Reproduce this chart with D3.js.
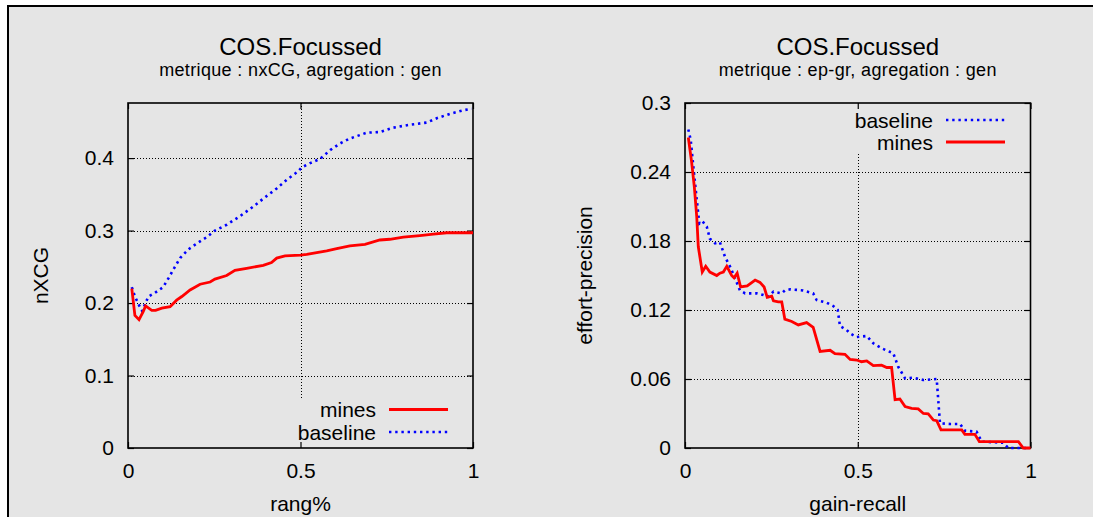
<!DOCTYPE html>
<html>
<head>
<meta charset="utf-8">
<script src="https://cdn.jsdelivr.net/npm/d3@7/dist/d3.min.js"></script>
<style>
  body { margin: 0; background: #fff; }
  text { font-family: "Liberation Sans", Arial, Helvetica, sans-serif; fill: #000; }
</style>
</head>
<body>
<div id="chart"></div>
<script>
// ---- data ----
// left panel: nxCG against rang%
var nxcgMines = [[0.011,0.220],[0.020,0.183],[0.032,0.177],[0.044,0.188],[0.051,0.196],[0.069,0.190],[0.080,0.190],
  [0.098,0.193],[0.122,0.195],[0.141,0.204],[0.156,0.209],[0.180,0.218],[0.209,0.226],[0.238,0.229],[0.252,0.233],
  [0.286,0.238],[0.310,0.245],[0.344,0.248],[0.392,0.252],[0.416,0.256],[0.431,0.262],[0.455,0.265],[0.500,0.266],
  [0.518,0.267],[0.576,0.272],[0.605,0.275],[0.643,0.279],[0.687,0.281],[0.730,0.287],[0.759,0.288],[0.798,0.291],
  [0.846,0.293],[0.885,0.295],[0.924,0.297],[1.000,0.297]];
var nxcgBaseline = [[0.011,0.222],[0.020,0.209],[0.033,0.196],[0.041,0.189],[0.051,0.200],[0.059,0.209],[0.078,0.214],
  [0.093,0.219],[0.102,0.222],[0.117,0.234],[0.136,0.250],[0.151,0.262],[0.175,0.274],[0.199,0.282],[0.228,0.291],
  [0.252,0.300],[0.286,0.308],[0.325,0.320],[0.363,0.333],[0.392,0.344],[0.431,0.358],[0.460,0.370],[0.494,0.382],
  [0.503,0.387],[0.528,0.393],[0.557,0.399],[0.586,0.411],[0.614,0.420],[0.643,0.427],[0.692,0.435],[0.730,0.436],
  [0.769,0.442],[0.817,0.446],[0.866,0.449],[0.895,0.455],[0.933,0.461],[0.972,0.466],[0.996,0.468]];

// right panel: effort-precision against gain-recall
var epMines = [[0.0096,0.270],[0.019,0.249],[0.027,0.227],[0.034,0.201],[0.0385,0.175],[0.050,0.153],[0.060,0.158],
  [0.072,0.153],[0.092,0.150],[0.101,0.152],[0.111,0.153],[0.121,0.158],[0.135,0.150],[0.142,0.148],[0.151,0.152],
  [0.161,0.140],[0.180,0.141],[0.203,0.146],[0.217,0.144],[0.229,0.140],[0.238,0.131],[0.251,0.132],[0.256,0.128],
  [0.270,0.127],[0.280,0.127],[0.289,0.112],[0.309,0.110],[0.328,0.107],[0.352,0.109],[0.371,0.105],[0.391,0.084],
  [0.420,0.085],[0.434,0.082],[0.463,0.0815],[0.478,0.077],[0.497,0.0765],[0.511,0.075],[0.526,0.0757],[0.545,0.0716],
  [0.569,0.072],[0.584,0.070],[0.598,0.070],[0.608,0.042],[0.622,0.0426],[0.637,0.036],[0.656,0.0345],[0.675,0.034],
  [0.690,0.030],[0.704,0.0296],[0.719,0.0243],[0.7285,0.0237],[0.741,0.0157],[0.767,0.0157],[0.801,0.0157],
  [0.810,0.0119],[0.839,0.0119],[0.852,0.0055],[0.892,0.0055],[0.965,0.0055],[0.979,0.0],[1.0,0.0]];
var epBaseline = [[0.0096,0.277],[0.0165,0.268],[0.024,0.245],[0.034,0.216],[0.0415,0.195],[0.051,0.197],[0.063,0.1925],
  [0.072,0.182],[0.087,0.178],[0.101,0.179],[0.116,0.166],[0.130,0.158],[0.145,0.1475],[0.159,0.137],[0.174,0.1345],
  [0.2075,0.1345],[0.227,0.133],[0.241,0.1316],[0.256,0.136],[0.280,0.1345],[0.289,0.137],[0.304,0.138],[0.342,0.137],
  [0.371,0.1345],[0.381,0.1287],[0.410,0.1264],[0.429,0.1235],[0.442,0.120],[0.4486,0.106],[0.468,0.1026],
  [0.4776,0.0997],[0.497,0.0965],[0.526,0.0974],[0.545,0.091],[0.569,0.0867],[0.603,0.0823],[0.617,0.0707],
  [0.637,0.0606],[0.661,0.0612],[0.690,0.0591],[0.7285,0.060],[0.738,0.0215],[0.767,0.0209],[0.796,0.0209],
  [0.810,0.015],[0.844,0.0142],[0.859,0.0055],[0.921,0.0046],[0.936,0.0],[0.970,0.0],[0.994,0.0]];

var xTicks = [0, 0.5, 1];
var nxcgTicks = [0, 0.1, 0.2, 0.3, 0.4];
var epTicks = [0, 0.06, 0.12, 0.18, 0.24, 0.3];

var W = 1093, H = 517;
var svg = d3.select("#chart").append("svg")
  .attr("width", W)
  .attr("height", H);

// page background with border on top / left
svg.append("rect").attr("width", W).attr("height", H).attr("fill", "#fff");
svg.append("rect")
  .attr("x", 8).attr("y", 6)
  .attr("width", W).attr("height", H)
  .attr("fill", "#e5e5e5");
svg.append("path")
  .attr("d", "M8," + H + "V6H" + W)
  .attr("fill", "none")
  .attr("stroke", "#000")
  .attr("stroke-width", 2);

var styles = {
  mines:    { color: "#ff0000", width: 2.8, dash: null },
  baseline: { color: "#0000ff", width: 2.6, dash: "2.4,3.8" }
};

var fmt = function(d) { return String(+d.toFixed(2)); };

function drawPanel(p) {
  var g = svg.append("g").attr("transform", "translate(" + p.left + "," + p.top + ")");
  var w = p.width, h = p.height;

  var x = d3.scaleLinear().domain([0, 1]).range([0, w]);
  var y = d3.scaleLinear().domain([0, p.yMax]).range([h, 0]);

  // titles
  g.append("text").attr("x", w / 2).attr("y", -48)
    .attr("text-anchor", "middle").style("font-size", "24px").text(p.title);
  g.append("text").attr("x", w / 2).attr("y", -27)
    .attr("text-anchor", "middle").style("font-size", "18px")
    .style("letter-spacing", "0.35px").text(p.subtitle);

  // dotted grid
  var grid = g.append("g").attr("stroke", "#000").attr("stroke-width", 1).attr("stroke-dasharray", "1,2");
  grid.selectAll("line.h")
    .data(p.yTicks.filter(function(d) { return d > 0 && d < p.yMax; }))
    .enter().append("line")
      .attr("x1", 0).attr("x2", w)
      .attr("y1", function(d) { return Math.round(y(d)) + 0.5; })
      .attr("y2", function(d) { return Math.round(y(d)) + 0.5; });
  grid.selectAll("line.v")
    .data(xTicks.filter(function(d) { return d > 0 && d < 1; }))
    .enter().append("line")
      .attr("x1", function(d) { return Math.round(x(d)) + 0.5; })
      .attr("x2", function(d) { return Math.round(x(d)) + 0.5; })
      .attr("y1", 0).attr("y2", h);

  // opaque key box hides the grid behind the legend
  g.append("rect")
    .attr("x", p.key.box[0]).attr("y", p.key.box[1])
    .attr("width", p.key.box[2]).attr("height", p.key.box[3])
    .attr("fill", "#e5e5e5");

  // axes, ticks pointing inwards
  g.append("g")
    .call(d3.axisLeft(y).tickValues(p.yTicks).tickFormat(fmt).tickSize(-6).tickPadding(14));
  g.append("g").attr("transform", "translate(" + w + ",0)")
    .call(d3.axisRight(y).tickValues(p.yTicks).tickFormat("").tickSize(-6));
  g.append("g").attr("transform", "translate(0," + h + ")")
    .call(d3.axisBottom(x).tickValues(xTicks).tickFormat(fmt).tickSize(-6).tickPadding(15));
  g.append("g")
    .call(d3.axisTop(x).tickValues(xTicks).tickFormat("").tickSize(-6));
  g.selectAll(".domain").remove();
  g.selectAll(".tick line").attr("stroke", "#000").attr("stroke-width", 1.2);
  g.selectAll(".tick text").style("font-size", "21px").attr("fill", "#000");

  // frame
  g.append("rect").attr("width", w).attr("height", h)
    .attr("fill", "none").attr("stroke", "#000").attr("stroke-width", 1.6);

  // axis labels
  g.append("text").attr("x", w / 2).attr("y", h + 63)
    .attr("text-anchor", "middle").style("font-size", "21px").text(p.xLabel);
  g.append("text")
    .attr("transform", "translate(" + p.yLabelX + "," + (h / 2) + ") rotate(-90)")
    .attr("text-anchor", "middle").style("font-size", "21px").text(p.yLabel);

  // curves
  var line = d3.line()
    .x(function(d) { return x(d[0]); })
    .y(function(d) { return y(d[1]); });
  p.series.forEach(function(s) {
    var st = styles[s.name];
    g.append("path")
      .datum(s.values)
      .attr("d", line)
      .attr("fill", "none")
      .attr("stroke", st.color)
      .attr("stroke-width", st.width)
      .attr("stroke-dasharray", st.dash)
      .attr("stroke-linejoin", "miter");
  });

  // key
  p.key.order.forEach(function(name, i) {
    var st = styles[name];
    var ky = p.key.y0 + i * p.key.step;
    g.append("text").attr("x", p.key.textX).attr("y", ky)
      .attr("text-anchor", "end").attr("dominant-baseline", "central")
      .style("font-size", "21px").text(name);
    g.append("line")
      .attr("x1", p.key.lineX[0]).attr("x2", p.key.lineX[1])
      .attr("y1", ky).attr("y2", ky)
      .attr("stroke", st.color)
      .attr("stroke-width", st.width)
      .attr("stroke-dasharray", st.dash);
  });
}

drawPanel({
  left: 128, top: 103, width: 345, height: 345,
  title: "COS.Focussed", subtitle: "metrique : nxCG, agregation : gen",
  xLabel: "rang%", yLabel: "nXCG", yLabelX: -80,
  yMax: 0.476, yTicks: nxcgTicks,
  series: [{ name: "baseline", values: nxcgBaseline }, { name: "mines", values: nxcgMines }],
  key: { order: ["mines", "baseline"], y0: 306.5, step: 22.5, textX: 248, lineX: [261, 320],
         box: [150, 295, 190, 48] }
});

drawPanel({
  left: 685, top: 103, width: 345.5, height: 345,
  title: "COS.Focussed", subtitle: "metrique : ep-gr, agregation : gen",
  xLabel: "gain-recall", yLabel: "effort-precision", yLabelX: -93,
  yMax: 0.3, yTicks: epTicks,
  series: [{ name: "baseline", values: epBaseline }, { name: "mines", values: epMines }],
  key: { order: ["baseline", "mines"], y0: 17, step: 22, textX: 248, lineX: [261, 320],
         box: [150, 1, 194, 49] }
});
</script>
</body>
</html>
